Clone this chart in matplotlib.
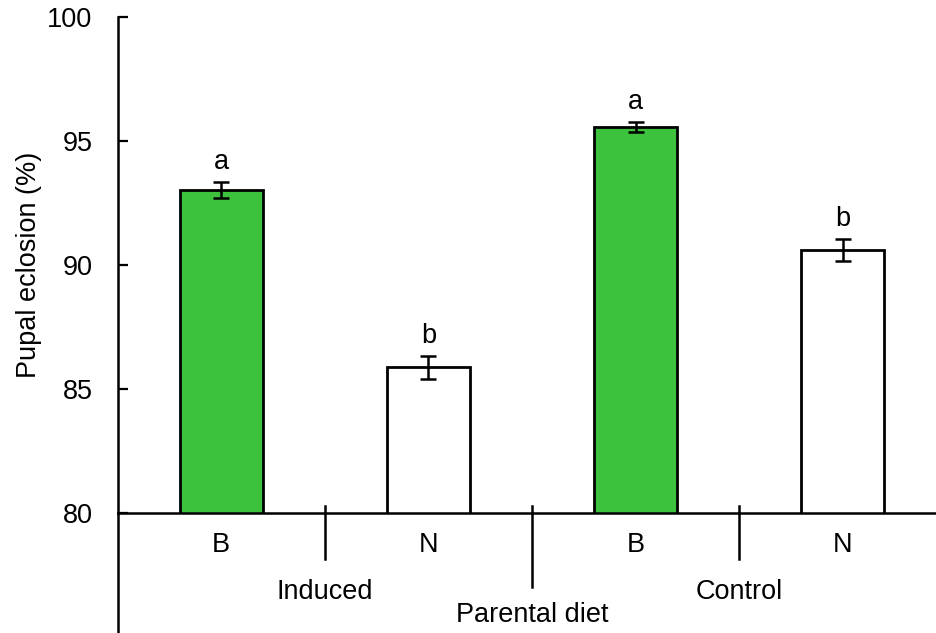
import numpy as np
import matplotlib
matplotlib.use("Agg")
import matplotlib.pyplot as plt
import matplotlib.transforms as mtransforms

plt.rcParams['font.family'] = ['Liberation Sans', 'DejaVu Sans']

diets = ["B", "N", "B", "N"]
groups = ["Induced", "Control"]
means = [93.02, 85.87, 95.56, 90.60]
errs = [0.31, 0.47, 0.20, 0.44]
letters = ["a", "b", "a", "b"]
colors = ["#3cc23c", "white", "#3cc23c", "white"]

fs = 19.5

fig = plt.figure(figsize=(9.37, 6.33), dpi=100)
# axes runs a little past the right edge of the figure, like the original
ax = fig.add_axes([117.5 / 937, 1 - 513 / 633, 829 / 937, 496 / 633])

x = np.arange(len(means))
ax.bar(x, means, width=0.4, color=colors, edgecolor="black", linewidth=2, zorder=2)
ax.errorbar(x, means, yerr=errs, fmt="none", ecolor="black", elinewidth=1.8,
            capsize=5.5, capthick=1.8, zorder=3)

for xi, m, e, l in zip(x, means, errs, letters):
    ax.annotate(l, (xi, m + e), xytext=(0, 5), textcoords="offset points",
                ha="center", va="bottom", fontsize=fs)

ax.set_xlim(-0.5, 3.5)
ax.set_ylim(80, 100)
ax.set_yticks([80, 85, 90, 95, 100])
ax.tick_params(axis="y", direction="in", length=7, width=1.6, labelsize=fs, pad=18)
ax.set_xticks(x)
ax.set_xticklabels(diets)
ax.tick_params(axis="x", length=0, labelsize=fs, pad=14)

for s in ["top", "right"]:
    ax.spines[s].set_visible(False)
ax.spines["left"].set_linewidth(1.8)
ax.spines["bottom"].set_linewidth(1.8)

trans = mtransforms.blended_transform_factory(ax.transData, ax.transAxes)
# left spine continues down past the x axis
ax.plot([0, 0], [0, -0.25], transform=ax.transAxes, color="black", lw=1.8, clip_on=False)
# group separators
for xs, low in [(0.5, -0.092), (1.5, -0.15), (2.5, -0.092)]:
    ax.plot([xs, xs], [0.014, low], transform=trans, color="black", lw=1.8, clip_on=False)

for gx, g in zip([0.5, 2.5], groups):
    ax.text(gx, -0.159, g, transform=trans, ha="center", va="center", fontsize=fs)
ax.text(1.5, -0.206, "Parental diet", transform=trans, ha="center", va="center", fontsize=fs)

ax.set_ylabel("Pupal eclosion (%)", fontsize=fs, labelpad=3.5)

fig.savefig("out.png", dpi=100)
